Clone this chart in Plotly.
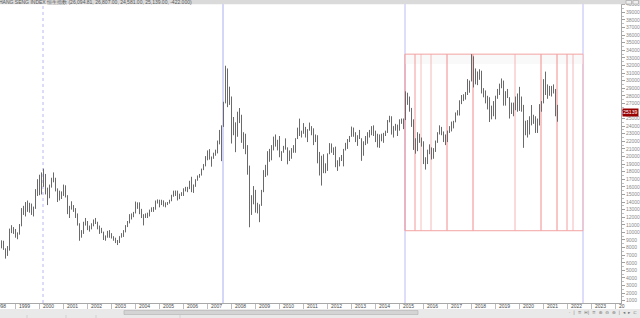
import plotly.graph_objects as go

# ---------------- data (monthly Hang Seng Index, from Jun 1998) ----------------
START_YEAR, START_MONTH = 1998, 6

OPEN = [
    8864, 8543, 7791, 7275, 7883, 10154, 10402,
    10049, 9506, 9879, 10942, 13122, 12795, 13532, 12989, 13546, 12733, 13256, 15378,
    16962, 15532, 17169, 17407, 15519, 14713, 16155, 16841, 17097, 15648, 14895, 14969,
    15096, 16102, 14788, 12761, 13386, 13174, 13043, 12316, 11091, 9951, 10073, 11279,
    11397, 10725, 10482, 11033, 11497, 11301, 10598, 10268, 9980, 9072, 9441, 10069,
    9321, 9258, 9123, 8634, 8718, 9487, 9577, 10134, 10908, 11229, 12190, 12317,
    12576, 13289, 13908, 12682, 11942, 12198, 12286, 12239, 12850, 13120, 13055, 14060,
    14230, 13721, 14196, 13516, 13908, 13868, 14201, 14880, 14904, 15429, 14387, 14937,
    14876, 15753, 15918, 15805, 16661, 15857, 16267, 16971, 17392, 17543, 18324, 18960,
    19965, 20107, 19652, 19801, 20319, 20635, 21773, 23185, 23984, 27143, 31353, 28644,
    27813, 23456, 24332, 22849, 25755, 24533, 22102, 22731, 21262, 18016, 13969, 13888,
    14387, 13278, 12811, 13576, 15521, 18171, 18379, 20573, 19724, 20955, 21753, 21822,
    21873, 20122, 20608, 21239, 21108, 19765, 20129, 21030, 20537, 22359, 23096, 23008,
    23035, 23447, 23338, 23528, 23720, 23684, 22398, 22440, 20535, 17592, 19864, 17989,
    18434, 20390, 21680, 20556, 21094, 18630, 19441, 19796, 19482, 20840, 21642, 22030,
    22657, 23730, 23020, 22300, 22737, 22392, 20803, 21884, 21731, 22860, 23206, 23881,
    23306, 22035, 22837, 22151, 22134, 23082, 23191, 24757, 24742, 22933, 23998, 23987,
    23605, 24507, 24823, 24900, 28133, 27424, 26250, 24636, 21671, 20846, 22640, 21996,
    21914, 19683, 19112, 20777, 21067, 20815, 20794, 21891, 23023, 23297, 22935, 22790,
    22001, 23361, 23741, 24112, 24615, 25661, 25765, 27323, 27970, 27554, 28246, 29177,
    29919, 32887, 30845, 30093, 30808, 30469, 28955, 28583, 27889, 27789, 24980, 26507,
    25846, 27942, 28633, 29051, 29699, 26901, 28543, 27778, 25725, 26092, 26907, 26346,
    28190, 26313, 26130, 23603, 24644, 22961, 24427, 24595, 25177, 23459, 24107, 26341,
    27231, 28284, 28980, 28378, 28725, 29152, 28828, 26095,
]
HIGH = [
    8950, 8900, 7900, 8200, 10500, 10950, 10700,
    10450, 10000, 11100, 13200, 13500, 14000, 14200, 13900, 13800, 13400, 15700, 17000,
    17600, 17900, 18397, 17700, 15900, 16300, 17200, 17900, 17200, 15800, 15500, 15400,
    16300, 16200, 14900, 13500, 14100, 13600, 13200, 12500, 11200, 10300, 11400, 11900,
    11500, 10900, 11200, 11700, 11900, 11400, 10900, 10600, 10100, 9600, 10200, 10300,
    9900, 9500, 9300, 9000, 9500, 9900, 10300, 10950, 11500, 12400, 12500, 12700,
    14058, 13950, 13950, 13100, 12400, 12500, 12600, 13000, 13300, 13350, 14200, 14339,
    14300, 14300, 14200, 13950, 14000, 14300, 14950, 15500, 15508, 15500, 15100, 15300,
    15800, 15998, 16000, 16800, 17328, 16300, 17000, 17500, 17700, 18400, 19000, 20050,
    20800, 20971, 20000, 20500, 20900, 22100, 23500, 24100, 27200, 31958, 31600, 29200,
    27900, 25200, 24500, 25900, 26387, 25500, 23200, 23000, 21500, 18800, 14900, 16100,
    15600, 13900, 13700, 15600, 18200, 18900, 20700, 21000, 21500, 22620, 22900, 22200,
    22700, 20700, 21400, 22388, 21200, 20800, 21100, 21500, 22400, 23800, 24988, 23400,
    24400, 23900, 23600, 24468, 24000, 23700, 22900, 22800, 20600, 20100, 20300, 19100,
    20400, 21760, 21700, 21200, 21300, 19500, 19900, 20200, 21000, 21800, 22300, 22700,
    23944, 23800, 23200, 22800, 23500, 22400, 22000, 22700, 23200, 23500, 24000, 24100,
    23400, 23000, 22900, 23000, 23100, 23400, 24800, 25363, 25300, 24000, 24300, 24200,
    24900, 25000, 25000, 28588, 28400, 27900, 26400, 24900, 22400, 23200, 23000, 22500,
    22000, 19900, 20900, 21600, 21200, 21100, 22100, 23200, 24100, 23900, 23300, 22900,
    23400, 24000, 24600, 24700, 25800, 26100, 27400, 28100, 28200, 28500, 30200, 30000,
    33484, 33200, 31600, 31200, 31500, 31300, 29000, 28700, 28000, 27800, 26700, 27300,
    28000, 28900, 29600, 30280, 30000, 28600, 28900, 27800, 27100, 27100, 27900, 28300,
    29175, 27900, 26800, 24700, 24800, 25300, 26782, 25500, 25300, 25000, 26900, 27300,
    30191, 31183, 29500, 29300, 29300, 29500, 28900, 26807,
]
LOW = [
    7900, 7700, 6544, 6900, 7600, 9900, 9800,
    9300, 9100, 9700, 10800, 12300, 12100, 12700, 12600, 12300, 12100, 13100, 14800,
    14900, 15000, 16000, 15000, 13600, 14500, 15900, 16600, 15400, 14000, 14200, 14400,
    14800, 14600, 12400, 11900, 13000, 12700, 11900, 10900, 8894, 9300, 9800, 10900,
    10300, 10100, 10400, 10800, 11100, 10400, 9800, 9900, 9000, 8900, 9300, 9300,
    9200, 8900, 8600, 8332, 8600, 9300, 9400, 10000, 10700, 11200, 11700, 12000,
    12500, 13100, 12400, 11900, 10918, 11900, 11900, 12100, 12700, 12700, 13000, 13800,
    13300, 13600, 13400, 13300, 13600, 13800, 14100, 14700, 14800, 14200, 14400, 14800,
    14800, 15400, 15300, 15700, 15300, 15200, 16000, 16800, 17200, 17500, 18200, 18700,
    19500, 19600, 18659, 19700, 20100, 20400, 21600, 19386, 23900, 27000, 26500, 26800,
    21709, 22800, 20572, 22600, 24400, 21800, 21000, 20300, 17600, 10676, 12300, 13700,
    12600, 12500, 11345, 13500, 15300, 17300, 17500, 19300, 19500, 20800, 21300, 20800,
    19900, 19400, 20500, 20900, 18971, 19400, 19700, 20500, 20500, 22300, 22700, 22500,
    23000, 22500, 21900, 23400, 22800, 21500, 21900, 19100, 17500, 16170, 17800, 17800,
    18100, 20300, 20500, 20200, 18600, 18100, 18700, 19400, 18700, 20800, 21000, 21900,
    22600, 22600, 21900, 21400, 22300, 19426, 20100, 21500, 21700, 22500, 22800, 22700,
    21900, 21200, 21137, 22000, 21800, 22700, 23100, 24500, 22900, 22500, 23400, 22700,
    23400, 24300, 23600, 24800, 26800, 25900, 23900, 20865, 20368, 20700, 21800, 21300,
    19000, 18278, 19000, 20300, 19600, 19700, 20600, 21800, 22900, 22800, 21900, 21500,
    21900, 23100, 23300, 23700, 24500, 25400, 25400, 26900, 27300, 27500, 28100, 28400,
    29900, 29100, 29500, 29400, 30100, 28300, 27800, 27000, 26200, 24540, 24900, 25300,
    24900, 27600, 28100, 29000, 26700, 26700, 27700, 25000, 25600, 25300, 26100, 25900,
    26000, 25900, 21139, 22800, 22500, 22900, 24100, 24300, 23100, 23100, 24100, 25900,
    27000, 28100, 27600, 28000, 27900, 28300, 25300, 24581,
]
CLOSE = [
    8543, 7791, 7275, 7883, 10154, 10402, 10049,
    9506, 9879, 10942, 13122, 12795, 13532, 12989, 13546, 12733, 13256, 15378, 16962,
    15532, 17169, 17407, 15519, 14713, 16155, 16841, 17097, 15648, 14895, 14969, 15096,
    16102, 14788, 12761, 13386, 13174, 13043, 12316, 11091, 9951, 10073, 11279, 11397,
    10725, 10482, 11033, 11497, 11301, 10598, 10268, 9980, 9072, 9441, 10069, 9321,
    9258, 9123, 8634, 8718, 9487, 9577, 10134, 10908, 11229, 12190, 12317, 12576,
    13289, 13908, 12682, 11942, 12198, 12286, 12239, 12850, 13120, 13055, 14060, 14230,
    13721, 14196, 13516, 13908, 13868, 14201, 14880, 14904, 15429, 14387, 14937, 14876,
    15753, 15918, 15805, 16661, 15857, 16267, 16971, 17392, 17543, 18324, 18960, 19965,
    20107, 19652, 19801, 20319, 20635, 21773, 23185, 23984, 27143, 31353, 28644, 27813,
    23456, 24332, 22849, 25755, 24533, 22102, 22731, 21262, 18016, 13969, 13888, 14387,
    13278, 12811, 13576, 15521, 18171, 18379, 20573, 19724, 20955, 21753, 21822, 21873,
    20122, 20608, 21239, 21108, 19765, 20129, 21030, 20537, 22359, 23096, 23008, 23035,
    23447, 23338, 23528, 23720, 23684, 22398, 22440, 20535, 17592, 19864, 17989, 18434,
    20390, 21680, 20556, 21094, 18630, 19441, 19796, 19482, 20840, 21642, 22030, 22657,
    23730, 23020, 22300, 22737, 22392, 20803, 21884, 21731, 22860, 23206, 23881, 23306,
    22035, 22837, 22151, 22134, 23082, 23191, 24757, 24742, 22933, 23998, 23987, 23605,
    24507, 24823, 24900, 28133, 27424, 26250, 24636, 21671, 20846, 22640, 21996, 21914,
    19683, 19112, 20777, 21067, 20815, 20794, 21891, 23023, 23297, 22935, 22790, 22001,
    23361, 23741, 24112, 24615, 25661, 25765, 27323, 27970, 27554, 28246, 29177, 29919,
    32887, 30845, 30093, 30808, 30469, 28955, 28583, 27889, 27789, 24980, 26507, 25846,
    27942, 28633, 29051, 29699, 26901, 28543, 27778, 25725, 26092, 26907, 26346, 28190,
    26313, 26130, 23603, 24644, 22961, 24427, 24595, 25177, 23459, 24107, 26341, 27231,
    28284, 28980, 28378, 28725, 29152, 28828, 25961, 25139,
]
assert len(OPEN) == len(HIGH) == len(LOW) == len(CLOSE)

YEARS = list(range(1998, 2025))
YEAR_LABELS = [str(y) for y in YEARS[:-1]] + ["20"]
Y_TICKS = list(range(1000, 40001, 1000))
HIDDEN_Y_LABEL = 26000   # covered by the last-price box in the reference

HEADER = "HANG SENG INDEX 恒生指数 (26,094.81, 26,807.00, 24,581.00, 25,139.00, -422.000)"
LAST_LABEL = "25139"
LAST_LABEL_Y = 25750

# markers (month offsets from Jan 1999)
MARK_DOTTED = 14      # Mar 2000
MARK_SOLID = 104      # Sep 2007
FIB_START = 195       # Apr 2015
FIB_OFFSETS = [0, 5, 8, 13, 21, 34, 55, 68, 76, 81, 84, 89]
FIB_COLORS = ["#f08c8c", "#f29a9a", "#f6c0c0", "#f5b8b8", "#f08c8c", "#f08c8c",
              "#f5b4b4", "#f08c8c", "#f08c8c", "#f29e9e", "#f5b8b8", "#f5b4b4"]
FIB_TOP, FIB_BOTTOM = 33484, 10220
BAND_LOW = 32200
LINE_SHIFT = -0.25   # draw marker lines on a pixel boundary (2px soft look)

# ---------------- layout geometry ----------------
W, H = 640, 318
ML, MR, MT, MB = 0, 19, 4, 15
PW, PH = W - ML - MR, H - MT - MB
X0 = -7.75                 # half-pixel offset so 1px bars render crisp
X1 = X0 + PW / 2.0
Y0, Y1 = 697, 40091

def px_to_paper_x(px):
    return (px - ML) / PW

def py_to_paper_y(py):
    return (H - MB - py) / PH

m0 = (START_YEAR - 1999) * 12 + (START_MONTH - 1)
months = [m0 + i for i in range(len(CLOSE))]

fig = go.Figure()
fig.add_trace(go.Ohlc(
    x=months, open=OPEN, high=HIGH, low=LOW, close=CLOSE,
    increasing=dict(line=dict(color="#6a6a6a", width=1)),
    decreasing=dict(line=dict(color="#6a6a6a", width=1)),
    tickwidth=0.12, hoverinfo="skip", showlegend=False,
))

shapes = []
fs = FIB_START + LINE_SHIFT
shapes.append(dict(type="rect", xref="x", yref="y", x0=fs, x1=fs + 89,
                   y0=BAND_LOW, y1=FIB_TOP, fillcolor="#f9f9f9", line=dict(width=0),
                   layer="below"))
for off, col in zip(FIB_OFFSETS, FIB_COLORS):
    shapes.append(dict(type="line", xref="x", yref="y", x0=fs + off, x1=fs + off,
                       y0=FIB_BOTTOM, y1=FIB_TOP, line=dict(color=col, width=1), layer="below"))
for yv in (FIB_TOP, FIB_BOTTOM):
    shapes.append(dict(type="line", xref="x", yref="y", x0=fs, x1=fs + 89,
                       y0=yv, y1=yv, line=dict(color="#f3a2a2", width=1), layer="below"))
md = MARK_DOTTED + LINE_SHIFT
ms = MARK_SOLID + LINE_SHIFT
shapes.append(dict(type="line", xref="x", yref="paper", x0=md, x1=md, y0=0, y1=1.01,
                   line=dict(color="#b8b8f0", width=1, dash="dot"), layer="below"))
shapes.append(dict(type="line", xref="x", yref="paper", x0=ms, x1=ms, y0=0, y1=1,
                   line=dict(color="#a8aef0", width=1), layer="below"))
for mm in (fs, fs + 89):
    shapes.append(dict(type="line", xref="x", yref="paper", x0=mm, x1=mm, y0=0, y1=1,
                       line=dict(color="#bcbcf8", width=1), layer="below"))
# header bar
shapes.append(dict(type="rect", xref="paper", yref="paper", x0=-0.01, x1=1.05,
                   y0=py_to_paper_y(4.3), y1=py_to_paper_y(-1), fillcolor="#dadada",
                   line=dict(width=0)))
for bx in (626, 633):
    shapes.append(dict(type="rect", xref="paper", yref="paper",
                       x0=px_to_paper_x(bx), x1=px_to_paper_x(bx + 5.5),
                       y0=py_to_paper_y(4), y1=py_to_paper_y(0.5),
                       fillcolor="#eeeeee", line=dict(color="#a0a0a0", width=0.6)))
# bottom toolbar
shapes.append(dict(type="rect", xref="paper", yref="paper", x0=-0.01, x1=1.05,
                   y0=py_to_paper_y(319), y1=py_to_paper_y(309), fillcolor="#e9e9e9",
                   line=dict(width=0)))
shapes.append(dict(type="rect", xref="paper", yref="paper",
                   x0=px_to_paper_x(124), x1=px_to_paper_x(418),
                   y0=py_to_paper_y(314.5), y1=py_to_paper_y(310.5),
                   fillcolor="#d4d4d4", line=dict(color="#b0b0b0", width=0.6)))
for sx in (27, 66, 96, 180):
    shapes.append(dict(type="line", xref="paper", yref="paper",
                       x0=px_to_paper_x(sx), x1=px_to_paper_x(sx),
                       y0=py_to_paper_y(318), y1=py_to_paper_y(315),
                       line=dict(color="#c4c4c4", width=0.6)))

annotations = []
annotations.append(dict(xref="paper", yref="paper", x=px_to_paper_x(-3), y=py_to_paper_y(2.1),
                        xanchor="left", yanchor="middle", text=HEADER, showarrow=False,
                        font=dict(size=5, color="#5a5a5a", family="Liberation Sans")))
for yr, lab in zip(YEARS, YEAR_LABELS):
    m = (yr - 1999) * 12
    px = ML + (m - X0) * 2.0
    annotations.append(dict(xref="paper", yref="paper", x=px_to_paper_x(px + 1.5),
                            y=py_to_paper_y(306.3), xanchor="left", yanchor="middle",
                            text=lab, showarrow=False,
                            font=dict(size=5, color="#4a4a4a", family="Liberation Sans")))
annotations.append(dict(xref="paper", yref="y", x=px_to_paper_x(621.5), y=LAST_LABEL_Y,
                        xanchor="left", yanchor="middle", text=LAST_LABEL, showarrow=False,
                        bgcolor="#980000", borderpad=0.3,
                        font=dict(size=5, color="#ffffff", family="Liberation Sans")))
annotations.append(dict(xref="paper", yref="paper", x=px_to_paper_x(639), y=py_to_paper_y(313),
                        xanchor="right", yanchor="middle",
                        text="·  |  ≡  H|  ≡  ⊕  ⊖  ⊕  |  ◂  ▸  ⊏", showarrow=False,
                        font=dict(size=4.5, color="#707070", family="DejaVu Sans")))

fig.update_layout(
    width=W, height=H,
    margin=dict(l=ML, r=MR, t=MT, b=MB, pad=0),
    paper_bgcolor="#ffffff", plot_bgcolor="#ffffff",
    shapes=shapes, annotations=annotations,
    showlegend=False, hovermode=False,
    xaxis=dict(range=[X0, X1], type="linear", rangeslider=dict(visible=False),
               tickmode="array", tickvals=[(y - 1999) * 12 for y in YEARS],
               showticklabels=False, ticks="outside", ticklen=6, tickcolor="#bdbdbd",
               tickwidth=1, showgrid=False, zeroline=False,
               showline=True, linecolor="#a8a8a8", linewidth=1, fixedrange=True),
    yaxis=dict(range=[Y0, Y1], side="right", tickmode="array", tickvals=Y_TICKS,
               ticktext=["" if v == HIDDEN_Y_LABEL else str(v) for v in Y_TICKS],
               ticks="outside", ticklen=3,
               tickcolor="#a0a0a0", tickwidth=1,
               tickfont=dict(size=5, color="#8a8a8a", family="Liberation Sans"),
               minor=dict(tickvals=[v + 500 for v in Y_TICKS[:-1]], ticks="outside",
                          ticklen=1.5, tickcolor="#c0c0c0"),
               showgrid=False, zeroline=False, showline=True, linecolor="#a8a8a8",
               linewidth=1, fixedrange=True),
)

fig.write_html("out.html")
